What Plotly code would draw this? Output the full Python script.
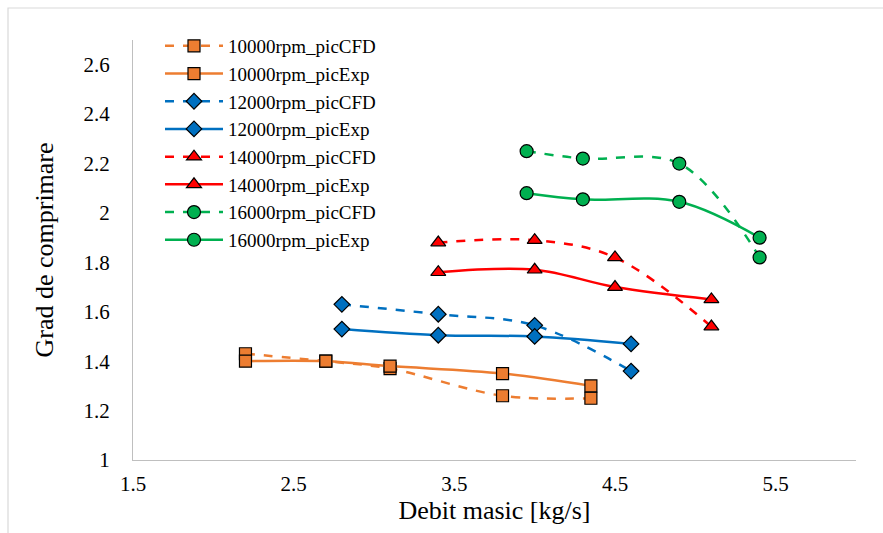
import plotly.graph_objects as go

# Data
x_10000 = [2.2, 2.7, 3.1, 3.8, 4.35]
y_10000_cfd = [1.43, 1.40, 1.37, 1.26, 1.25]
y_10000_exp = [1.40, 1.40, 1.38, 1.35, 1.30]

x_12000 = [2.8, 3.4, 4.0, 4.6]
y_12000_cfd = [1.63, 1.59, 1.545, 1.36]
y_12000_exp = [1.53, 1.505, 1.50, 1.47]

x_14000 = [3.4, 4.0, 4.5, 5.1]
y_14000_cfd = [1.88, 1.89, 1.82, 1.54]
y_14000_exp = [1.76, 1.77, 1.70, 1.65]

x_16000 = [3.95, 4.3, 4.9, 5.4]
y_16000_cfd = [2.25, 2.22, 2.20, 1.82]
y_16000_exp = [2.08, 2.055, 2.045, 1.90]

x_ticks = [1.5, 2.5, 3.5, 4.5, 5.5]
y_ticks = [1, 1.2, 1.4, 1.6, 1.8, 2, 2.2, 2.4, 2.6]
y_tick_text = ["1", "1.2", "1.4", "1.6", "1.8", "2", "2.2", "2.4", "2.6"]

series = [
    ("10000rpm_picCFD", x_10000, y_10000_cfd, "#ED7D31", "square", "dash", 12),
    ("10000rpm_picExp", x_10000, y_10000_exp, "#ED7D31", "square", "solid", 12),
    ("12000rpm_picCFD", x_12000, y_12000_cfd, "#0070C0", "diamond", "dash", 12),
    ("12000rpm_picExp", x_12000, y_12000_exp, "#0070C0", "diamond", "solid", 12),
    ("14000rpm_picCFD", x_14000, y_14000_cfd, "#FF0000", "triangle-up", "dash", 13),
    ("14000rpm_picExp", x_14000, y_14000_exp, "#FF0000", "triangle-up", "solid", 13),
    ("16000rpm_picCFD", x_16000, y_16000_cfd, "#00B050", "circle", "dash", 13),
    ("16000rpm_picExp", x_16000, y_16000_exp, "#00B050", "circle", "solid", 13),
]

fig = go.Figure()
for name, xs, ys, color, sym, dash, size in series:
    fig.add_trace(go.Scatter(
        x=xs, y=ys, name=name, mode="lines+markers",
        line=dict(color=color, width=2.5, dash=dash, shape="spline", smoothing=1),
        marker=dict(symbol=sym, size=size, color=color, line=dict(color="black", width=1.2)),
    ))

FONT = "Liberation Serif"
L, R, T, B = 133, 27, 40, 73
W, H = 883, 533
pw, ph = W - L - R, H - T - B

fig.update_layout(
    width=W, height=H,
    margin=dict(l=L, r=R, t=T, b=B),
    paper_bgcolor="white", plot_bgcolor="white",
    font=dict(family=FONT, color="black", size=19),
    showlegend=True,
    legend=dict(
        x=(160 - L) / pw, y=(460 - 27) / ph, xanchor="left", yanchor="top",
        font=dict(family=FONT, size=19, color="black"),
        bgcolor="rgba(0,0,0,0)", tracegroupgap=0, itemwidth=58,
    ),
    xaxis=dict(
        range=[1.5, 6.0], tickvals=x_ticks, ticktext=[str(v) for v in x_ticks],
        showgrid=False, zeroline=False, showline=True, linecolor="#BFBFBF", linewidth=1.3,
        ticks="", tickfont=dict(family=FONT, size=21), ticklabelstandoff=5,
        title=dict(text="Debit masic [kg/s]", font=dict(family=FONT, size=26), standoff=0),
    ),
    yaxis=dict(
        range=[1.0, 2.7], tickvals=y_ticks, ticktext=y_tick_text,
        showgrid=False, zeroline=False, showline=True, linecolor="#BFBFBF", linewidth=1.3,
        ticks="", tickfont=dict(family=FONT, size=21), ticklabelstandoff=18,
        title=dict(text="Grad de comprimare", font=dict(family=FONT, size=26), standoff=22),
    ),
    shapes=[dict(
        type="rect", xref="paper", yref="paper",
        x0=(8 - L) / pw, x1=(895 - L) / pw,
        y0=(H - B - 545) / ph, y1=(H - B - 8) / ph,
        line=dict(color="#D9D9D9", width=1.2), fillcolor="rgba(0,0,0,0)", layer="below",
    )],
)

fig.write_html("out.html")
